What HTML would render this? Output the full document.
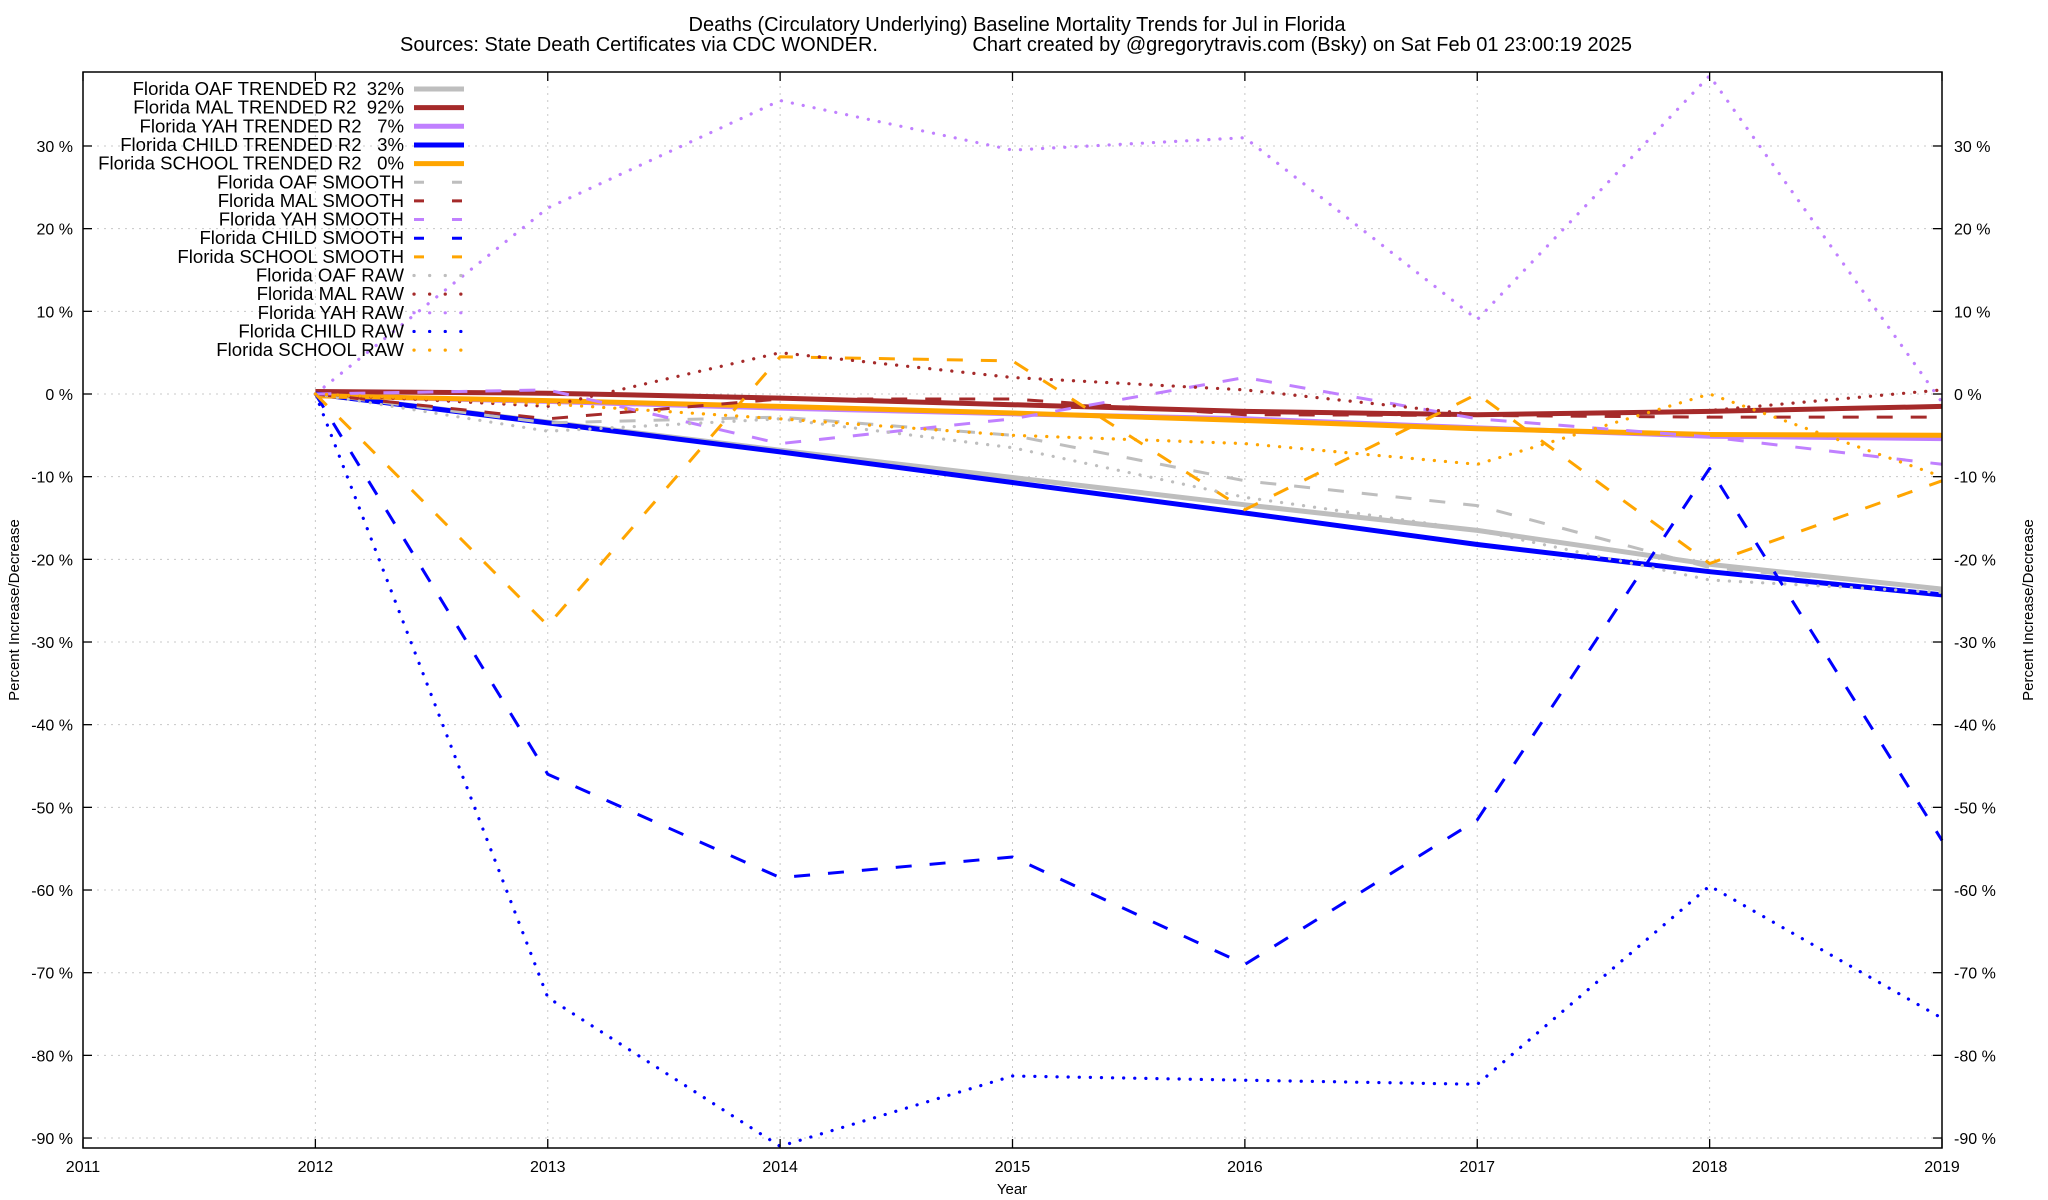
<!DOCTYPE html>
<html><head><meta charset="utf-8"><style>
html,body{margin:0;padding:0;background:#fff;}
svg{display:block;font-family:"Liberation Sans",sans-serif;}
</style></head><body>
<svg id="chart" width="2048" height="1200" viewBox="0 0 2048 1200" xmlns="http://www.w3.org/2000/svg">
<rect width="2048" height="1200" fill="#fff"/>
<text x="1017" y="31" font-size="20" text-anchor="middle">Deaths (Circulatory Underlying)  Baseline Mortality Trends for Jul in Florida</text>
<text x="1016" y="51" font-size="20" text-anchor="middle" xml:space="preserve" style="white-space:pre">Sources: State Death Certificates via CDC WONDER.                 Chart created by @gregorytravis.com (Bsky) on Sat Feb 01 23:00:19 2025</text>
<g id="grid"></g>
<g id="series"></g>
<g id="axes"></g>
<g id="legend"></g>
<text x="1012" y="1194" font-size="15" text-anchor="middle">Year</text>
<text transform="translate(19,610) rotate(-90)" font-size="15" text-anchor="middle">Percent Increase/Decrease</text>
<text transform="translate(2033,610) rotate(-90)" font-size="15" text-anchor="middle">Percent Increase/Decrease</text>
</svg>
<script>
const years = [2012,2013,2014,2015,2016,2017,2018,2019];
const xTicks = [2011,2012,2013,2014,2015,2016,2017,2018,2019];
const yTicks = [30,20,10,0,-10,-20,-30,-40,-50,-60,-70,-80,-90];
const seriesNames = ["Florida OAF TRENDED R2  32%","Florida MAL TRENDED R2  92%","Florida YAH TRENDED R2   7%","Florida CHILD TRENDED R2   3%","Florida SCHOOL TRENDED R2   0%","Florida OAF SMOOTH","Florida MAL SMOOTH","Florida YAH SMOOTH","Florida CHILD SMOOTH","Florida SCHOOL SMOOTH","Florida OAF RAW","Florida MAL RAW","Florida YAH RAW","Florida CHILD RAW","Florida SCHOOL RAW"];
const oafTrend = [0,-3.4,-6.8,-10.1,-13.4,-16.5,-20.6,-23.6];
const malTrend = [0.3,0.1,-0.5,-1.3,-2.1,-2.5,-2.1,-1.5];
const yahTrend = [-0.2,-0.9,-1.7,-2.4,-3.0,-4.1,-5.1,-5.4];
const childTrend = [0,-3.5,-7.0,-10.7,-14.4,-18.2,-21.5,-24.3];
const schoolTrend = [-0.2,-0.8,-1.5,-2.3,-3.2,-4.2,-4.9,-5.0];
const oafSmooth = [0,-3.5,-2.8,-5.0,-10.5,-13.5,-21.0,-23.5];
const malSmooth = [0,-3.0,-0.6,-0.6,-2.5,-2.6,-2.8,-2.8];
const yahSmooth = [0,0.5,-6.0,-3.0,2.0,-3.0,-5.2,-8.5];
const childSmooth = [0,-46,-58.5,-56,-69,-51.5,-9,-54];
const schoolSmooth = [0,-28,4.5,4.0,-14,0,-20.5,-10.5];
const oafRaw = [0,-4.5,-3.0,-6.5,-12.5,-16.5,-22.5,-24];
const malRaw = [0,-1.5,5.0,2.0,0.5,-2.5,-2.0,0.5];
const yahRaw = [0,22.5,35.5,29.5,31,9,38.5,-1];
const childRaw = [0,-73,-91,-82.5,-83,-83.5,-59.5,-75.5];
const schoolRaw = [0,-1.2,-3.0,-5.0,-6.0,-8.5,0,-10];

const L=83,R=1942,T=72,B=1148;
const xs = y => L + (y-2011)*(R-L)/8;
const ys = v => 394 - v*8.267;
const NS="http://www.w3.org/2000/svg";
function mk(tag, attrs, parent){const e=document.createElementNS(NS,tag);for(const k in attrs)e.setAttribute(k,attrs[k]);parent.appendChild(e);return e;}
const grid=document.getElementById('grid'), axes=document.getElementById('axes'), ser=document.getElementById('series'), leg=document.getElementById('legend');

yTicks.forEach(v=>{
  const y=ys(v);
  const g=mk('line',{x1:L,x2:R,y1:y,y2:y,stroke:'#c8c8c8','stroke-width':1,'stroke-dasharray':'2,5'},grid);
  
  
  mk('line',{x1:L,x2:L+9,y1:y,y2:y,stroke:'#000','stroke-width':1.3},axes);
  mk('line',{x1:R-9,x2:R,y1:y,y2:y,stroke:'#000','stroke-width':1.3},axes);
  const t1=mk('text',{x:L-10,y:y+6,'font-size':16,'text-anchor':'end'},axes);
  t1.textContent=v+' %';
  
  
  const t2=mk('text',{x:R+12,y:y+6,'font-size':16,'text-anchor':'start'},axes);
  t2.textContent=v+' %';
  
  
});
xTicks.forEach(yr=>{
  const x=xs(yr);
  const g=mk('line',{x1:x,x2:x,y1:T,y2:B,stroke:'#c8c8c8','stroke-width':1,'stroke-dasharray':'2,5'},grid);
  
  
  mk('line',{x1:x,x2:x,y1:B-9,y2:B,stroke:'#000','stroke-width':1.3},axes);
  mk('line',{x1:x,x2:x,y1:T,y2:T+9,stroke:'#000','stroke-width':1.3},axes);
  const t=mk('text',{x:x,y:B+24,'font-size':16,'text-anchor':'middle'},axes);
  t.textContent=yr;
  
  
});
const frame=mk('rect',{x:L,y:T,width:R-L,height:B-T,fill:'none',stroke:'#000','stroke-width':1.5},axes);



const gray='#bebebe',red='#a52a2a',purple='#c080ff',blue='#0000ff',orange='#ffa500';
const styles={
  trend:{w:5,dash:null,cap:'butt'},
  smooth:{w:3,dash:'16,18',cap:'butt'},
  raw:{w:3.2,dash:'0.1,11',cap:'round'}
};
const seriesList=[
  [oafTrend,gray,'trend','oaf-trended-line'],[malTrend,red,'trend','mal-trended-line'],[yahTrend,purple,'trend','yah-trended-line'],[childTrend,blue,'trend','child-trended-line'],[schoolTrend,orange,'trend','school-trended-line'],
  [oafSmooth,gray,'smooth','oaf-smooth-line'],[malSmooth,red,'smooth','mal-smooth-line'],[yahSmooth,purple,'smooth','yah-smooth-line'],[childSmooth,blue,'smooth','child-smooth-line'],[schoolSmooth,orange,'smooth','school-smooth-line'],
  [oafRaw,gray,'raw','oaf-raw-line'],[malRaw,red,'raw','mal-raw-line'],[yahRaw,purple,'raw','yah-raw-line'],[childRaw,blue,'raw','child-raw-line'],[schoolRaw,orange,'raw','school-raw-line']
];
seriesList.forEach((s,i)=>{
  const [vals,col,kind,name]=s;
  const st=styles[kind];
  const pts=vals.map((v,j)=>xs(years[j]).toFixed(1)+','+ys(v).toFixed(1)).join(' ');
  const a={points:pts,fill:'none',stroke:col,'stroke-width':st.w,'stroke-linecap':st.cap,'stroke-linejoin':'round'};
  if(st.dash)a['stroke-dasharray']=st.dash;
  const p=mk('polyline',a,ser);
  
  
  const ly=89+i*18.65;
  const t=mk('text',{x:404,y:ly+6,'font-size':18.6,'text-anchor':'end'},leg);
  t.style.whiteSpace='pre';
  t.textContent=seriesNames[i];
  
  
  const la={x1:414,x2:464,y1:ly,y2:ly,stroke:col,'stroke-width':st.w,'stroke-linecap':st.cap};
  if(kind==='smooth')la['stroke-dasharray']='10,28';
  if(kind==='raw')la['stroke-dasharray']='0.1,15.5';
  const ln=mk('line',la,leg);
  
  
});
</script>
</body></html>
